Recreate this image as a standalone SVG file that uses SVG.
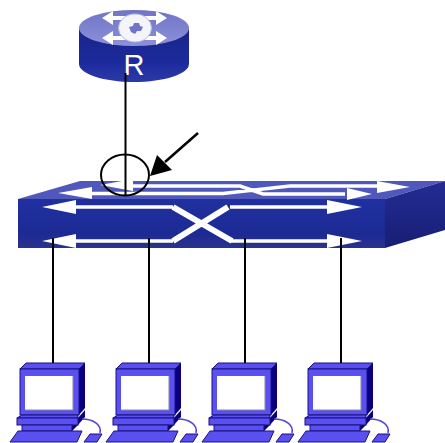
<svg xmlns="http://www.w3.org/2000/svg" xmlns:xlink="http://www.w3.org/1999/xlink" width="445" height="443" viewBox="0 0 445 443">
<style>
.wl{fill:none;stroke:#fff;stroke-width:3.500}
.wx{fill:none;stroke:#fff;stroke-width:6}
.wa{fill:#fff}
.c{fill:none;stroke:#000;stroke-width:2}
.pcb{fill:#5a50f0;stroke:#1a1080;stroke-width:1}
.pcd{fill:#0a0080}
</style>
<defs>
<linearGradient id="rb" x1="0" y1="0" x2="0" y2="1"><stop offset="0" stop-color="#1a2488"/><stop offset="0.65" stop-color="#1c2a9c"/><stop offset="1" stop-color="#2c3aa8"/></linearGradient>
<linearGradient id="rt" x1="0" y1="0" x2="0" y2="1"><stop offset="0" stop-color="#6f74c8"/><stop offset="1" stop-color="#8d91d8"/></linearGradient>
<linearGradient id="sf" x1="0" y1="0" x2="0" y2="1"><stop offset="0" stop-color="#20309f"/><stop offset="0.7" stop-color="#1c2a94"/><stop offset="1" stop-color="#2a328c"/></linearGradient>
<linearGradient id="ss" x1="0" y1="0" x2="0" y2="1"><stop offset="0" stop-color="#242c94"/><stop offset="1" stop-color="#161e74"/></linearGradient>
<g id="pc">
<path class="pcd" d="M79 369L85 363V408L79 415Z"/>
<path class="pcb" d="M20 369L26 363H85L79 369Z"/>
<rect class="pcb" x="20" y="369" width="59" height="46"/>
<rect x="25" y="376" width="48" height="34" fill="#fff"/>
<path d="M25 410H73V376" fill="none" stroke="#8888a0" stroke-width="1"/>
<path class="pcd" d="M78 418L85 410V417L78 425ZM72 425H78L72 431Z"/>
<path class="pcb" d="M22 415H78L78 418H17Z"/>
<rect class="pcb" x="17" y="418" width="61" height="7"/>
<rect class="pcb" x="22" y="425" width="50" height="6"/>
<path class="pcb" d="M18 431H82L77 442H10Z"/>
<path d="M82 419C92 419 102 424 100 433" fill="none" stroke="#4a40d0" stroke-width="1.500"/>
<path class="pcb" d="M90 434H102L97 442H84Z"/>
</g>
</defs>
<g id="router">
<path d="M79 28V64C79 74 104 82 134 82S189 74 189 64V28Z" fill="url(#rb)"/>
<ellipse cx="134" cy="28" rx="55" ry="18" fill="url(#rt)"/>
<path class="wa" d="M102 18L113 11V16H156V11L167 18L156 25V20H113V25ZM102 38L113 31V36H156V31L167 38L156 45V40H113V45Z"/>
<ellipse cx="135" cy="28" rx="16.500" ry="14" fill="#f4f5fb" stroke="#b8bcd8" stroke-width="1"/>
<path d="M129 27L133 26L134 23L139 23L140 26L143 27L141 31L137 31L135 34L131 32Z" fill="#6f74c8"/>
<text x="134" y="75" font-family="Liberation Sans, Arial, sans-serif" font-size="29" fill="#fff" text-anchor="middle">R</text>
</g>
<g id="switch">
<path d="M18 199L80 181H445L385 199Z" fill="#5058bc"/>
<rect x="18" y="199" width="367" height="49" fill="url(#sf)"/>
<path d="M385 199L445 181V230L385 248Z" fill="url(#ss)"/>
<path class="wl" d="M130 186H240L263 194H345M90 193.500H223L290 186H378"/>
<path class="wa" d="M100 185L133 179V191ZM58 193L92 187V199ZM410 187L377 181V193ZM372 194L347 188V200Z"/>
<path class="wl" d="M75 207H173M75 241H173M230 207H328M230 241H328"/>
<path class="wx" d="M173 207L232 241M173 241L228 207"/>
<path class="wa" d="M42 207L76 200V214ZM42 241L76 234V248ZM362 207L327 200V214ZM362 241L327 234V248Z"/>
</g>
<g id="pc1"><use xlink:href="#pc" href="#pc"/></g>
<g id="pc2"><use xlink:href="#pc" href="#pc" x="96"/></g>
<g id="pc3"><use xlink:href="#pc" href="#pc" x="192"/></g>
<g id="pc4"><use xlink:href="#pc" href="#pc" x="288"/></g>
<g id="connectors">
<path class="c" d="M125.500 73V195M53 238V363M149 238V363M245 238V363M341 238V363"/>
<ellipse class="c" cx="125" cy="175" rx="24" ry="20.500"/>
<path d="M198 133L165 162" fill="none" stroke="#000" stroke-width="2.500"/>
<path d="M150 176L157 155L172 170Z" fill="#000"/>
</g>
</svg>
